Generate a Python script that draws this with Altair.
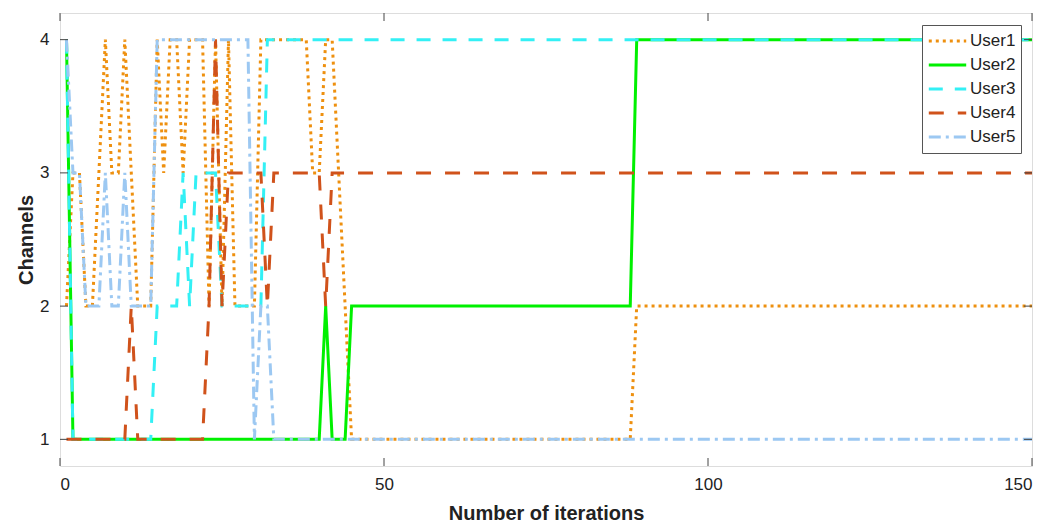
import altair as alt
import pandas as pd

# Vertices of each user's channel trajectory (iteration, channel)
u1_iter = list(range(1, 46)) + [88, 89, 150]
u1_vals = [2, 3, 3, 2, 2, 3, 4, 3, 3, 4, 3, 2, 2, 2, 4, 3, 4, 4, 3, 4,
           4, 4, 2, 4, 2, 4, 2, 2, 2, 2, 4, 4, 4, 4, 4, 4, 4, 4, 3, 3,
           4, 4, 3, 2, 1, 1, 2, 2]

u2_iter = [1, 2, 40, 41, 42, 44, 45, 88, 89, 150]
u2_vals = [4, 1, 1, 2, 1, 1, 2, 2, 4, 4]

u3_iter = [1, 2, 14, 15, 18, 19, 20, 21, 24, 25, 31, 32, 150]
u3_vals = [4, 1, 1, 2, 2, 3, 2, 3, 3, 2, 2, 4, 4]

u4_iter = [1, 10, 11, 12, 22, 23, 24, 25, 26, 31, 32, 33, 40, 41, 42, 150]
u4_vals = [1, 1, 2, 1, 1, 2, 4, 2, 3, 3, 2, 3, 3, 2, 3, 3]

u5_iter = [1, 2, 3, 4, 5, 6, 7, 8, 9, 10, 11, 14, 15, 29, 30, 31, 32, 33, 150]
u5_vals = [4, 3, 3, 2, 2, 2, 3, 2, 2, 3, 2, 2, 4, 4, 1, 2, 2, 1, 1]

users = ["User1", "User2", "User3", "User4", "User5"]
colors = ["#EE900F", "#00F000", "#33F0F5", "#D0521B", "#9CC8F2"]
dashes = [[3, 4], [1, 0], [14, 12], [15, 14], [12, 5, 3, 5]]

x_ticks = [0, 50, 100, 150]
y_ticks = [1, 2, 3, 4]

rows = []
for name, its, vals in zip(users, [u1_iter, u2_iter, u3_iter, u4_iter, u5_iter],
                           [u1_vals, u2_vals, u3_vals, u4_vals, u5_vals]):
    for k, (i, v) in enumerate(zip(its, vals)):
        rows.append({"user": name, "iter": i, "ch": v, "ord": k})
df = pd.DataFrame(rows)

W, H = 972, 453
FONT = "Liberation Sans"
xs = alt.Scale(domain=[0, 150], nice=False, zero=False)
ys = alt.Scale(domain=[0.8, 4.2], nice=False, zero=False)

lines = alt.Chart(df).mark_line(strokeWidth=3, strokeCap="butt", clip=True).encode(
    x=alt.X("iter:Q", scale=xs,
            axis=alt.Axis(values=x_ticks, format="d", title="Number of iterations", grid=False,
                          tickSize=0, domain=False, labelPadding=10, titlePadding=11,
                          labelFontSize=17, titleFontSize=20, titleFontWeight="bold",
                          labelColor="#222", titleColor="#222", labelFont=FONT,
                          titleFont=FONT)),
    y=alt.Y("ch:Q", scale=ys,
            axis=alt.Axis(values=y_ticks, format="d", title="Channels", grid=False, tickSize=0,
                          domain=False, labelPadding=11, titlePadding=3,
                          labelFontSize=17, titleFontSize=20, titleFontWeight="bold",
                          labelColor="#222", titleColor="#222", labelFont=FONT,
                          titleFont=FONT)),
    color=alt.Color("user:N", scale=alt.Scale(domain=users, range=colors),
                    legend=alt.Legend(title=None, orient="none", legendX=862, legendY=12,
                                      symbolType="stroke", symbolSize=1400,
                                      symbolStrokeWidth=3, labelFontSize=17,
                                      labelFont=FONT, labelColor="#222",
                                      strokeColor="#555", fillColor="white",
                                      padding=5, rowPadding=2, clipHeight=22,
                                      labelOffset=2)),
    strokeDash=alt.StrokeDash("user:N", scale=alt.Scale(domain=users, range=dashes),
                              legend=None),
    order="ord:Q",
)

xt = pd.DataFrame({"t": x_ticks})
yt = pd.DataFrame({"t": y_ticks})
tick_color = "#444"
xb = alt.Chart(xt).mark_rule(color=tick_color, strokeWidth=1).encode(
    x=alt.X("t:Q", scale=xs), y=alt.value(H), y2=alt.value(H - 8))
xtop = alt.Chart(xt).mark_rule(color=tick_color, strokeWidth=1).encode(
    x=alt.X("t:Q", scale=xs), y=alt.value(0), y2=alt.value(8))
yl = alt.Chart(yt).mark_rule(color=tick_color, strokeWidth=1).encode(
    y=alt.Y("t:Q", scale=ys), x=alt.value(0), x2=alt.value(8))
yr = alt.Chart(yt).mark_rule(color=tick_color, strokeWidth=1).encode(
    y=alt.Y("t:Q", scale=ys), x=alt.value(W), x2=alt.value(W - 8))

chart = alt.layer(lines, xb, xtop, yl, yr).properties(
    width=W, height=H,
    autosize=alt.AutoSizeParams(type="none"),
    padding={"left": 60, "top": 13, "right": 32, "bottom": 57},
).configure_view(stroke="#444", strokeWidth=1.2).configure(background="white")

chart.save("out.html", embed_options={"renderer": "svg", "actions": False})
